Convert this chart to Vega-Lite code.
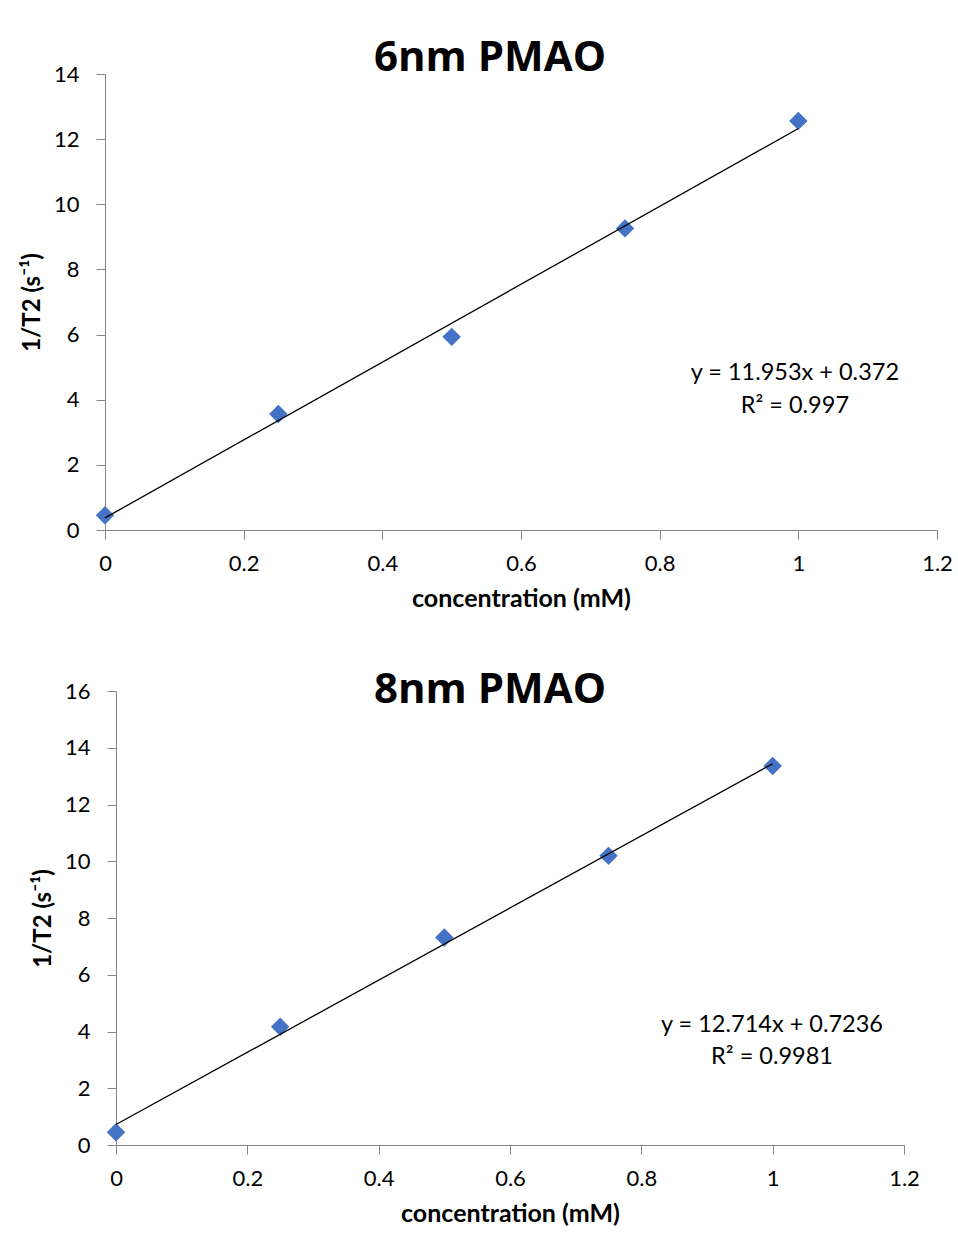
{
  "$schema": "https://vega.github.io/schema/vega-lite/v6.json",
  "padding": {"left": 20, "top": 37, "right": 0, "bottom": 0},
  "background": "white",
  "config": {
    "font": "Lato",
    "view": {"stroke": null},
    "axis": {
      "domainColor": "#868686", "tickColor": "#868686", "labelColor": "#000000",
      "labelFontSize": 22, "titleFontSize": 25, "titleFontWeight": "bold", "titleColor": "#000000",
      "grid": false, "tickSize": 9, "labelPadding": 14, "labelFont": "Lato", "titleFont": "Lato",
      "domainWidth": 1, "tickWidth": 1, "labelFlush": false, "labelOverlap": false
    },
    "title": {"fontSize": 42, "fontWeight": "bold", "color": "#000000", "font": "Open Sans", "frame": "group"}
  },
  "datasets": {
    "pts6": [
      {"conc": 0, "rate": 0.45},
      {"conc": 0.25, "rate": 3.56},
      {"conc": 0.5, "rate": 5.93},
      {"conc": 0.75, "rate": 9.26},
      {"conc": 1, "rate": 12.56}
    ],
    "fit6": [
      {"conc": 0, "rate": 0.372},
      {"conc": 1, "rate": 12.325}
    ],
    "eq6": [
      {"conc": 0.995, "rate": 4.82, "label": "y = 11.953x + 0.372"},
      {"conc": 0.995, "rate": 3.81, "label": "R² = 0.997"}
    ],
    "pts8": [
      {"conc": 0, "rate": 0.45},
      {"conc": 0.25, "rate": 4.17},
      {"conc": 0.5, "rate": 7.31},
      {"conc": 0.75, "rate": 10.19},
      {"conc": 1, "rate": 13.36}
    ],
    "fit8": [
      {"conc": 0, "rate": 0.7236},
      {"conc": 1, "rate": 13.4376}
    ],
    "eq8": [
      {"conc": 0.999, "rate": 4.23, "label": "y = 12.714x + 0.7236"},
      {"conc": 0.999, "rate": 3.1, "label": "R² = 0.9981"}
    ]
  },
  "spacing": 58,
  "vconcat": [
    {
      "width": 832,
      "height": 456,
      "title": {"text": "6nm PMAO", "dx": -31, "dy": 21},
      "layer": [
        {
          "data": {"name": "pts6"},
          "mark": {"type": "point", "shape": "diamond", "filled": true, "size": 340, "color": "#4472C4", "opacity": 1},
          "encoding": {
            "x": {"field": "conc", "type": "quantitative", "scale": {"domain": [0, 1.2], "nice": false},
                  "axis": {"values": [0, 0.2, 0.4, 0.6, 0.8, 1, 1.2], "format": "~g", "title": "concentration (mM)", "titlePadding": 12}},
            "y": {"field": "rate", "type": "quantitative", "scale": {"domain": [0, 14], "nice": false},
                  "axis": {"values": [0, 2, 4, 6, 8, 10, 12, 14], "format": "d", "title": "1/T2 (s⁻¹)", "titlePadding": 9, "titleFontSize": 24, "labelPadding": 17}}
          }
        },
        {
          "data": {"name": "fit6"},
          "mark": {"type": "line", "color": "#000000", "strokeWidth": 1.3},
          "encoding": {
            "x": {"field": "conc", "type": "quantitative"},
            "y": {"field": "rate", "type": "quantitative"}
          }
        },
        {
          "data": {"name": "eq6"},
          "mark": {"type": "text", "fontSize": 23.5, "align": "center", "baseline": "middle", "color": "#000000"},
          "encoding": {
            "x": {"field": "conc", "type": "quantitative"},
            "y": {"field": "rate", "type": "quantitative"},
            "text": {"field": "label"}
          }
        }
      ]
    },
    {
      "width": 799,
      "height": 454,
      "title": {"text": "8nm PMAO", "dx": -14.5, "dy": 36},
      "layer": [
        {
          "data": {"name": "pts8"},
          "mark": {"type": "point", "shape": "diamond", "filled": true, "size": 340, "color": "#4472C4", "opacity": 1},
          "encoding": {
            "x": {"field": "conc", "type": "quantitative", "scale": {"domain": [0, 1.2], "nice": false, "range": [11, 799]},
                  "axis": {"values": [0, 0.2, 0.4, 0.6, 0.8, 1, 1.2], "format": "~g", "title": "concentration (mM)", "titlePadding": 12}},
            "y": {"field": "rate", "type": "quantitative", "scale": {"domain": [0, 16], "nice": false},
                  "axis": {"values": [0, 2, 4, 6, 8, 10, 12, 14, 16], "format": "d", "title": "1/T2 (s⁻¹)", "titlePadding": 9, "titleFontSize": 24, "labelPadding": 17, "offset": -11}}
          }
        },
        {
          "data": {"name": "fit8"},
          "mark": {"type": "line", "color": "#000000", "strokeWidth": 1.3},
          "encoding": {
            "x": {"field": "conc", "type": "quantitative"},
            "y": {"field": "rate", "type": "quantitative"}
          }
        },
        {
          "data": {"name": "eq8"},
          "mark": {"type": "text", "fontSize": 23.5, "align": "center", "baseline": "middle", "color": "#000000"},
          "encoding": {
            "x": {"field": "conc", "type": "quantitative"},
            "y": {"field": "rate", "type": "quantitative"},
            "text": {"field": "label"}
          }
        }
      ]
    }
  ]
}
